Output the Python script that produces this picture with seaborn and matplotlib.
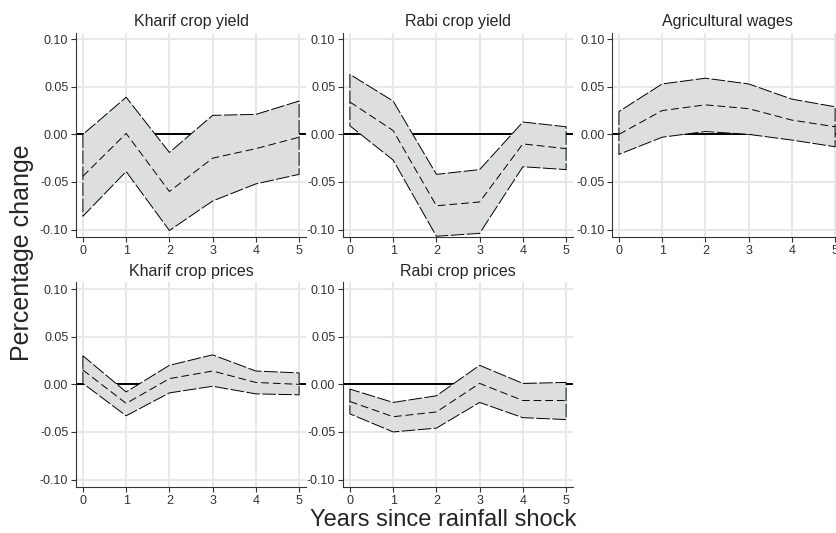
import numpy as np
import pandas as pd
import seaborn as sns
import matplotlib.pyplot as plt
from matplotlib.ticker import StrMethodFormatter

# Yıllar (şoktan sonra)
years = [0, 1, 2, 3, 4, 5]

titles = ["Kharif crop yield", "Rabi crop yield", "Agricultural wages",
          "Kharif crop prices", "Rabi crop prices"]

# Tahminler ve güven aralıkları (alt, orta, üst)
kharif_yield_lo = [-0.086, -0.039, -0.101, -0.070, -0.052, -0.042]
kharif_yield_mid = [-0.044, 0.001, -0.060, -0.025, -0.015, -0.003]
kharif_yield_hi = [0.000, 0.039, -0.019, 0.020, 0.021, 0.035]

rabi_yield_lo = [0.009, -0.027, -0.107, -0.104, -0.034, -0.037]
rabi_yield_mid = [0.034, 0.004, -0.075, -0.071, -0.010, -0.015]
rabi_yield_hi = [0.063, 0.035, -0.042, -0.037, 0.013, 0.008]

wages_lo = [-0.021, -0.003, 0.003, 0.000, -0.006, -0.013]
wages_mid = [0.000, 0.025, 0.031, 0.027, 0.015, 0.008]
wages_hi = [0.024, 0.053, 0.059, 0.053, 0.037, 0.029]

kharif_price_lo = [0.001, -0.033, -0.009, -0.002, -0.010, -0.011]
kharif_price_mid = [0.015, -0.020, 0.006, 0.014, 0.002, 0.000]
kharif_price_hi = [0.030, -0.008, 0.020, 0.031, 0.014, 0.012]

rabi_price_lo = [-0.031, -0.050, -0.046, -0.019, -0.035, -0.037]
rabi_price_mid = [-0.018, -0.034, -0.029, 0.001, -0.017, -0.017]
rabi_price_hi = [-0.005, -0.019, -0.012, 0.020, 0.001, 0.002]

y_ticks = [0.10, 0.05, 0.00, -0.05, -0.10]

series = [
    (kharif_yield_lo, kharif_yield_mid, kharif_yield_hi),
    (rabi_yield_lo, rabi_yield_mid, rabi_yield_hi),
    (wages_lo, wages_mid, wages_hi),
    (kharif_price_lo, kharif_price_mid, kharif_price_hi),
    (rabi_price_lo, rabi_price_mid, rabi_price_hi),
]

# Tema
sns.set_theme(style="ticks")
plt.rcParams['font.family'] = ['Liberation Sans', 'DejaVu Sans']
plt.rcParams['axes.unicode_minus'] = False

fig = plt.figure(figsize=(8.37, 5.33), dpi=100)

# Panel konumları (sol, alt)
w, h = 0.2748, 0.384
positions = [(0.0908, 0.555), (0.4098, 0.555), (0.7312, 0.555),
             (0.0908, 0.086), (0.4098, 0.086)]

for (lo, mid, hi), title, (left, bottom) in zip(series, titles, positions):
    ax = fig.add_axes([left, bottom, w, h])
    df = pd.DataFrame({"year": years, "lo": lo, "mid": mid, "hi": hi})

    # Sıfır çizgisi
    ax.axhline(0, color="black", lw=1.4, zorder=1)

    # Güven bandı
    ax.fill_between(df["year"], df["lo"], df["hi"], facecolor="#dddfde",
                    edgecolor="black", linewidth=0.7, linestyle=(0, (14, 2.5)),
                    zorder=2)
    sns.lineplot(data=df, x="year", y="mid", ax=ax, color="black", lw=0.7,
                 linestyle=(0, (8, 4)), zorder=3)

    ax.set_xlim(-0.16, 5.16)
    ax.set_ylim(-0.108, 0.107)
    ax.set_xticks(years)
    ax.set_yticks(y_ticks)
    ax.yaxis.set_major_formatter(StrMethodFormatter("{x:.2f}"))
    ax.grid(True, color="#e8e8e8", lw=1.5, zorder=0)
    ax.set_axisbelow(True)
    sns.despine(ax=ax)
    for s in ["left", "bottom"]:
        ax.spines[s].set_color("#333333")
        ax.spines[s].set_linewidth(0.8)
    ax.tick_params(axis="both", labelsize=9, colors="#333333", length=3.5,
                   width=0.8, pad=2)
    ax.set_xlabel("")
    ax.set_ylabel("")
    ax.set_title(title, fontsize=11.5, pad=5)

fig.text(0.026, 0.525, "Percentage change", rotation=90, fontsize=18,
         ha="center", va="center")
fig.text(0.53, 0.025, "Years since rainfall shock", fontsize=17,
         ha="center", va="center")

plt.savefig("out.png", dpi=100)
